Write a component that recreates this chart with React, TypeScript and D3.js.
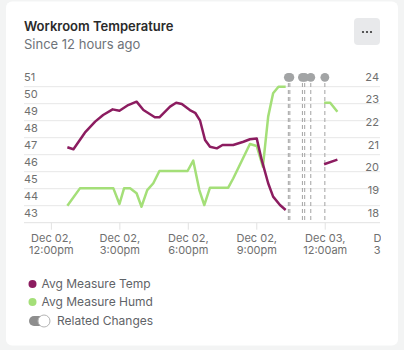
import React, { useEffect, useRef } from "react";
import * as d3 from "d3";

// avg temperature (right axis), null = gap in data
const tempTimes = [
  "12-02 12:42", "12-02 12:58", "12-02 13:28", "12-02 13:55", "12-02 14:16", "12-02 14:41",
  "12-02 14:59", "12-02 15:22", "12-02 15:44", "12-02 16:02", "12-02 16:32", "12-02 16:44",
  "12-02 17:12", "12-02 17:28", "12-02 17:43", "12-02 18:04", "12-02 18:18", "12-02 18:31",
  "12-02 18:44", "12-02 18:57", "12-02 19:15", "12-02 19:30", "12-02 19:58", "12-02 20:25",
  "12-02 20:42", "12-02 21:00", "12-02 21:13", "12-02 21:30", "12-02 21:43", "12-02 22:01",
  "12-02 22:16", "12-02 23:00", "12-02 23:57", "12-03 00:32",
];
const tempValues = [
  21.33, 21.24, 21.97, 22.46, 22.75, 23.0,
  22.94, 23.19, 23.34, 22.97, 22.65, 22.65,
  23.12, 23.29, 23.24, 22.97, 22.85, 22.5,
  21.65, 21.35, 21.28, 21.43, 21.43, 21.57,
  21.68, 21.71, 20.77, 19.74, 19.15, 18.78,
  18.56, null, 20.58, 20.78,
];

// avg humidity (left axis)
const humdTimes = [
  "12-02 12:42", "12-02 13:15", "12-02 14:43", "12-02 14:59", "12-02 15:11", "12-02 15:27",
  "12-02 15:44", "12-02 15:57", "12-02 16:12", "12-02 16:28", "12-02 16:44", "12-02 17:58",
  "12-02 18:13", "12-02 18:29", "12-02 18:42", "12-02 18:57", "12-02 19:45", "12-02 19:58",
  "12-02 20:42", "12-02 21:00", "12-02 21:16", "12-02 21:30", "12-02 21:43", "12-02 21:57",
  "12-02 22:16", "12-02 23:00", "12-02 23:57", "12-03 00:13", "12-03 00:32",
];
const humdValues = [
  44.0, 45.02, 45.02, 44.1, 45.02, 45.02,
  44.73, 43.94, 44.92, 45.32, 46.04, 46.04,
  46.65, 44.92, 44.04, 45.06, 45.06, 45.6,
  47.63, 47.51, 46.29, 49.24, 50.61, 51.0,
  51.0, null, 50.06, 50.06, 49.53,
];

// related change events
const changeTimes = ["12-02 22:23", "12-02 22:27", "12-02 23:00", "12-02 23:06", "12-02 23:22", "12-02 23:59"];

const leftTicks = [43, 44, 45, 46, 47, 48, 49, 50, 51];
const rightTicks = [18, 19, 20, 21, 22, 23, 24];

const legendLabels = ["Avg Measure Temp", "Avg Measure Humd"];
const TEMP_COLOR = "#8c1c60";
const HUMD_COLOR = "#a4df78";
const FONT = "Inter, 'Noto Sans', sans-serif";

export default function App() {
  const ref = useRef<SVGSVGElement>(null);

  useEffect(() => {
    const svg = d3.select(ref.current);
    svg.selectAll("*").remove();
    const parse = d3.timeParse("%Y-%m-%d %H:%M");
    const p = (s: string) => parse("2023-" + s)!;

    const width = 404;
    const height = 350;
    const plot = { left: 24, right: 380, top: 86.7, bottom: 222.7 };

    svg.append("rect").attr("width", width).attr("height", height).attr("fill", "#f3f4f4");
    svg.append("rect")
      .attr("x", 6).attr("y", 1.5).attr("width", 392).attr("height", 344)
      .attr("rx", 6).attr("fill", "#fff");

    // header
    svg.append("text").attr("x", 24).attr("y", 31)
      .attr("font-family", FONT).attr("font-size", 13).attr("font-weight", 600)
      .attr("fill", "#2a2a2a").text("Workroom Temperature");
    svg.append("text").attr("x", 24).attr("y", 48.5)
      .attr("font-family", FONT).attr("font-size", 13)
      .attr("fill", "#6e7379").text("Since 12 hours ago");
    svg.append("rect").attr("x", 354).attr("y", 18).attr("width", 26).attr("height", 27)
      .attr("rx", 4).attr("fill", "#e8e9eb");
    [-4, 0, 4].forEach((dx) =>
      svg.append("circle").attr("cx", 367 + dx).attr("cy", 32).attr("r", 1.1).attr("fill", "#333")
    );

    const x = d3.scaleTime()
      .domain([p("12-02 10:48"), p("12-03 02:24")])
      .range([plot.left, plot.right]);
    const yL = d3.scaleLinear().domain([43, 51]).range([plot.bottom, plot.top]);
    const yR = d3.scaleLinear().domain([18, 24]).range([plot.bottom, plot.top]);

    const clip = svg.append("clipPath").attr("id", "plotclip");
    clip.append("rect").attr("x", plot.left).attr("y", 0).attr("width", plot.right - plot.left + 1).attr("height", height);

    // grid
    svg.append("g").selectAll("line").data(leftTicks.slice(1)).join("line")
      .attr("x1", plot.left).attr("x2", plot.right)
      .attr("y1", (d) => yL(d)).attr("y2", (d) => yL(d))
      .attr("stroke", "#e7e7e7").attr("stroke-width", 1);
    svg.append("line").attr("x1", plot.left).attr("x2", plot.right)
      .attr("y1", plot.bottom).attr("y2", plot.bottom)
      .attr("stroke", "#e2e2e2").attr("stroke-width", 1);

    svg.append("g").selectAll("text").data(leftTicks).join("text")
      .attr("x", plot.left).attr("y", (d) => yL(d) - 6)
      .attr("font-family", FONT).attr("font-size", 11).attr("fill", "#6f6f6f")
      .text((d) => d);
    svg.append("g").selectAll("text").data(rightTicks).join("text")
      .attr("x", plot.right - 1).attr("y", (d) => yR(d) - 6).attr("text-anchor", "end")
      .attr("font-family", FONT).attr("font-size", 11).attr("fill", "#6f6f6f")
      .text((d) => d);

    // x axis
    const xTicks = d3.timeHour.every(3)!.range(p("12-02 11:00"), p("12-03 04:00"));
    const fmtDay = d3.timeFormat("%b %d,");
    const fmtTime = (d: Date) => d3.timeFormat("%-I:%M%p")(d).toLowerCase();
    const xg = svg.append("g").attr("clip-path", "url(#plotclip)");
    xg.selectAll("line").data(xTicks).join("line")
      .attr("x1", (d) => x(d)).attr("x2", (d) => x(d))
      .attr("y1", plot.bottom).attr("y2", plot.bottom + 7)
      .attr("stroke", "#e2e2e2");
    const lbl = xg.selectAll("text").data(xTicks).join("text")
      .attr("font-family", FONT).attr("font-size", 11).attr("fill", "#6f6f6f")
      .attr("text-anchor", "middle");
    lbl.append("tspan").attr("x", (d) => x(d)).attr("y", 241.5).text((d) => fmtDay(d));
    lbl.append("tspan").attr("x", (d) => x(d)).attr("y", 253.5).text((d) => fmtTime(d));

    // related changes
    const cg = svg.append("g");
    changeTimes.forEach((t) => {
      const cx = x(p(t));
      cg.append("line").attr("x1", cx).attr("x2", cx).attr("y1", 83).attr("y2", 222)
        .attr("stroke", "#a3a3a3").attr("stroke-width", 1).attr("stroke-dasharray", "4,3");
    });
    changeTimes.forEach((t) => {
      cg.append("circle").attr("cx", x(p(t))).attr("cy", 77.3).attr("r", 4.4).attr("fill", "#a2a4a5");
    });

    // series
    const tempData = tempTimes.map((t, i) => ({ t: p(t), v: tempValues[i] }));
    const humdData = humdTimes.map((t, i) => ({ t: p(t), v: humdValues[i] }));
    const lineL = d3.line<any>().defined((d) => d.v != null).x((d) => x(d.t)).y((d) => yL(d.v));
    const lineR = d3.line<any>().defined((d) => d.v != null).x((d) => x(d.t)).y((d) => yR(d.v));
    svg.append("path").datum(humdData).attr("d", lineL)
      .attr("fill", "none").attr("stroke", HUMD_COLOR).attr("stroke-width", 2.5)
      .attr("stroke-linejoin", "round");
    svg.append("path").datum(tempData).attr("d", lineR)
      .attr("fill", "none").attr("stroke", TEMP_COLOR).attr("stroke-width", 2.5)
      .attr("stroke-linejoin", "round");

    // legend
    const colors = [TEMP_COLOR, HUMD_COLOR];
    legendLabels.forEach((name, i) => {
      const cy = 284 + i * 18;
      svg.append("circle").attr("cx", 32.5).attr("cy", cy).attr("r", 4).attr("fill", colors[i]);
      svg.append("text").attr("x", 41.5).attr("y", cy + 4.2)
        .attr("font-family", FONT).attr("font-size", 12).attr("fill", "#5f6368").text(name);
    });
    // toggle
    svg.append("rect").attr("x", 29).attr("y", 316).attr("width", 21).attr("height", 10)
      .attr("rx", 5).attr("fill", "#8e8e8e");
    svg.append("circle").attr("cx", 44).attr("cy", 321).attr("r", 6)
      .attr("fill", "#fff").attr("stroke", "#b5b5b5").attr("stroke-width", 1);
    svg.append("text").attr("x", 57).attr("y", 325.2)
      .attr("font-family", FONT).attr("font-size", 12).attr("fill", "#5f6368").text("Related Changes");
  }, []);

  return (
    <svg
      ref={ref}
      width={404}
      height={350}
      style={{ position: "absolute", left: 0, top: 0, display: "block" }}
    />
  );
}
